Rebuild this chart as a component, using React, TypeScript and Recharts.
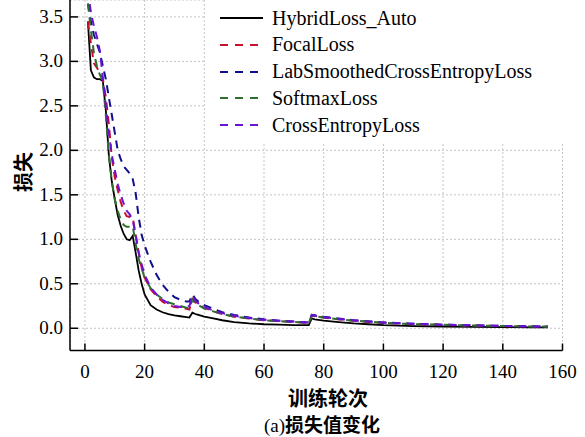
import { LineChart, Line, XAxis, YAxis, CartesianGrid } from "recharts";

// epochs sampled from the curves
const epochs = [
  1, 2, 3, 4, 5, 6, 7, 8, 9, 10, 11, 12, 13, 14, 15, 16, 17, 18, 19, 20,
  22, 24, 26, 28, 30, 32, 34, 35, 36, 37, 38, 40, 43, 46, 50, 55, 60, 65, 70, 75,
  76, 77, 80, 85, 90, 95, 100, 110, 120, 130, 140, 150, 155,
];

const hybridLoss = [
  3.45, 2.9, 2.82, 2.8, 2.8, 2.78, 2.45, 1.95, 1.65, 1.45, 1.27, 1.15, 1.06, 1.0, 0.99, 1.04, 0.85, 0.65, 0.5, 0.38,
  0.26, 0.21, 0.18, 0.16, 0.145, 0.135, 0.125, 0.12, 0.175, 0.16, 0.15, 0.13, 0.11, 0.09, 0.07, 0.055, 0.045, 0.04, 0.035, 0.035,
  0.11, 0.1, 0.085, 0.07, 0.055, 0.045, 0.035, 0.025, 0.02, 0.015, 0.012, 0.01, 0.01,
];

const focalLoss = [
  3.45, 3.2, 2.98, 2.93, 2.87, 2.8, 2.6, 2.3, 1.92, 1.7, 1.55, 1.42, 1.32, 1.26, 1.25, 1.25, 1.05, 0.85, 0.68, 0.57,
  0.44, 0.36, 0.3, 0.26, 0.24, 0.23, 0.22, 0.21, 0.33, 0.29, 0.27, 0.23, 0.19, 0.16, 0.13, 0.11, 0.09, 0.08, 0.07, 0.06,
  0.14, 0.135, 0.12, 0.1, 0.085, 0.07, 0.06, 0.045, 0.038, 0.03, 0.025, 0.02, 0.018,
];

const labSmoothedLoss = [
  3.65, 3.45, 3.3, 3.2, 3.1, 2.95, 2.8, 2.6, 2.4, 2.2, 2.0, 1.9, 1.82, 1.78, 1.74, 1.68, 1.52, 1.25, 1.05, 0.93,
  0.75, 0.6, 0.49, 0.41, 0.35, 0.32, 0.3, 0.3, 0.38, 0.33, 0.3, 0.26, 0.22, 0.18, 0.15, 0.12, 0.1, 0.085, 0.075, 0.065,
  0.15, 0.145, 0.13, 0.11, 0.09, 0.078, 0.065, 0.05, 0.04, 0.032, 0.026, 0.02, 0.02,
];

const softmaxLoss = [
  3.65, 3.35, 3.1, 2.95, 2.85, 2.78, 2.4, 1.95, 1.65, 1.45, 1.32, 1.22, 1.16, 1.14, 1.14, 1.15, 0.95, 0.78, 0.67, 0.57,
  0.45, 0.38, 0.33, 0.29, 0.27, 0.25, 0.23, 0.22, 0.32, 0.28, 0.26, 0.22, 0.19, 0.16, 0.13, 0.11, 0.09, 0.08, 0.07, 0.06,
  0.14, 0.135, 0.12, 0.1, 0.085, 0.075, 0.06, 0.047, 0.04, 0.03, 0.025, 0.02, 0.018,
];

const crossEntropyLoss = [
  3.8, 3.55, 3.4, 3.28, 3.12, 2.82, 2.5, 2.2, 1.95, 1.78, 1.62, 1.5, 1.4, 1.32, 1.28, 1.22, 1.05, 0.85, 0.72, 0.6,
  0.46, 0.38, 0.32, 0.28, 0.25, 0.24, 0.24, 0.25, 0.36, 0.31, 0.28, 0.24, 0.2, 0.17, 0.14, 0.115, 0.095, 0.085, 0.075, 0.065,
  0.15, 0.14, 0.125, 0.105, 0.09, 0.075, 0.065, 0.05, 0.04, 0.032, 0.026, 0.02, 0.02,
];

const xTicks = [0, 20, 40, 60, 80, 100, 120, 140, 160];
const yTicks = [0, 0.5, 1.0, 1.5, 2.0, 2.5, 3.0, 3.5];

const series = [
  { key: "hybrid", name: "HybridLoss_Auto", color: "#000000", dash: undefined, width: 1.8 },
  { key: "focal", name: "FocalLoss", color: "#c8102e", dash: "8 6", width: 2 },
  { key: "lab", name: "LabSmoothedCrossEntropyLoss", color: "#10108c", dash: "8 6", width: 2 },
  { key: "softmax", name: "SoftmaxLoss", color: "#2f6e2f", dash: "8 6", width: 2 },
  { key: "ce", name: "CrossEntropyLoss", color: "#6a12d4", dash: "8 6", width: 2 },
];

const data = epochs.map((e, i) => ({
  epoch: e,
  hybrid: hybridLoss[i],
  focal: focalLoss[i],
  lab: labSmoothedLoss[i],
  softmax: softmaxLoss[i],
  ce: crossEntropyLoss[i],
}));

const SERIF = "'Liberation Serif', Tinos, 'Times New Roman', 'DejaVu Serif', serif";
const CJK = "'Noto Sans CJK SC', sans-serif";

function XTick({ x, y, payload }: any) {
  return (
    <g>
      <line x1={x} x2={x} y1={y} y2={y - 7} stroke="#000" strokeWidth={1.5} />
      <text x={x} y={y + 27} textAnchor="middle" style={{ fontFamily: SERIF }} fontSize={19} fill="#000">
        {payload.value}
      </text>
    </g>
  );
}

function YTick({ x, y, payload }: any) {
  const axisX = x + 6;
  return (
    <g>
      <line x1={axisX} x2={axisX + 8} y1={y} y2={y} stroke="#000" strokeWidth={1.5} />
      <text x={x - 1} y={y + 6} textAnchor="end" style={{ fontFamily: SERIF }} fontSize={19} fill="#000">
        {Number(payload.value).toFixed(1)}
      </text>
    </g>
  );
}

export default function App() {
  return (
    <div style={{ position: "absolute", left: 0, top: 0, width: 585, height: 437, background: "#fff", fontFamily: SERIF }}>
      <LineChart width={585} height={437} data={data} margin={{ top: 0, right: 22.5, left: 0, bottom: 0 }}>
        <CartesianGrid stroke="#c4c4c4" strokeDasharray="2 2" strokeWidth={1} />
        <XAxis
          dataKey="epoch"
          type="number"
          domain={[-5, 160]}
          ticks={xTicks}
          allowDataOverflow
          height={86.5}
          axisLine={{ stroke: "#000", strokeWidth: 1.5 }}
          tickLine={false}
          tickSize={0}
          tickMargin={0}
          tick={<XTick />}
          interval={0}
        />
        <YAxis
          type="number"
          domain={[-0.25, 3.69]}
          ticks={yTicks}
          allowDataOverflow
          width={70}
          axisLine={{ stroke: "#000", strokeWidth: 1.5 }}
          tickLine={false}
          tickSize={0}
          tickMargin={6}
          tick={<YTick />}
          interval={0}
        />
        {series.map((s) => (
          <Line
            key={s.key}
            type="linear"
            dataKey={s.key}
            name={s.name}
            stroke={s.color}
            strokeWidth={s.width}
            strokeDasharray={s.dash}
            dot={false}
            activeDot={false}
            isAnimationActive={false}
          />
        ))}
      </LineChart>

      {/* legend box, white background over the grid */}
      <div style={{ position: "absolute", left: 205, top: 0, width: 380, height: 143, background: "#fff" }}>
        {series.map((s, i) => (
          <div
            key={s.key}
            style={{ position: "absolute", left: 15, top: 18 + i * 26.8 - 12, height: 24, display: "flex", alignItems: "center" }}
          >
            <svg width={44} height={6} style={{ display: "block" }}>
              <line x1={0} x2={43} y1={3} y2={3} stroke={s.color} strokeWidth={2} strokeDasharray={s.dash ? "8 7" : undefined} />
            </svg>
            <span style={{ marginLeft: 8, fontFamily: SERIF, fontSize: 20, color: "#000", whiteSpace: "nowrap" }}>{s.name}</span>
          </div>
        ))}
      </div>

      <div
        style={{
          position: "absolute",
          left: 22,
          top: 172,
          transform: "translate(-50%, -50%) rotate(-90deg)",
          fontFamily: CJK,
          fontWeight: 700,
          fontSize: 20,
          whiteSpace: "nowrap",
        }}
      >
        损失
      </div>

      <div
        style={{
          position: "absolute",
          left: 328,
          top: 397,
          transform: "translate(-50%, -50%)",
          fontFamily: CJK,
          fontWeight: 700,
          fontSize: 20,
          whiteSpace: "nowrap",
        }}
      >
        训练轮次
      </div>

      <div
        style={{
          position: "absolute",
          left: 322,
          top: 423,
          transform: "translate(-50%, -50%)",
          fontSize: 19,
          whiteSpace: "nowrap",
        }}
      >
        <span style={{ fontFamily: SERIF }}>(a)</span>
        <span style={{ fontFamily: CJK, fontWeight: 700, fontSize: 19 }}>损失值变化</span>
      </div>
    </div>
  );
}
